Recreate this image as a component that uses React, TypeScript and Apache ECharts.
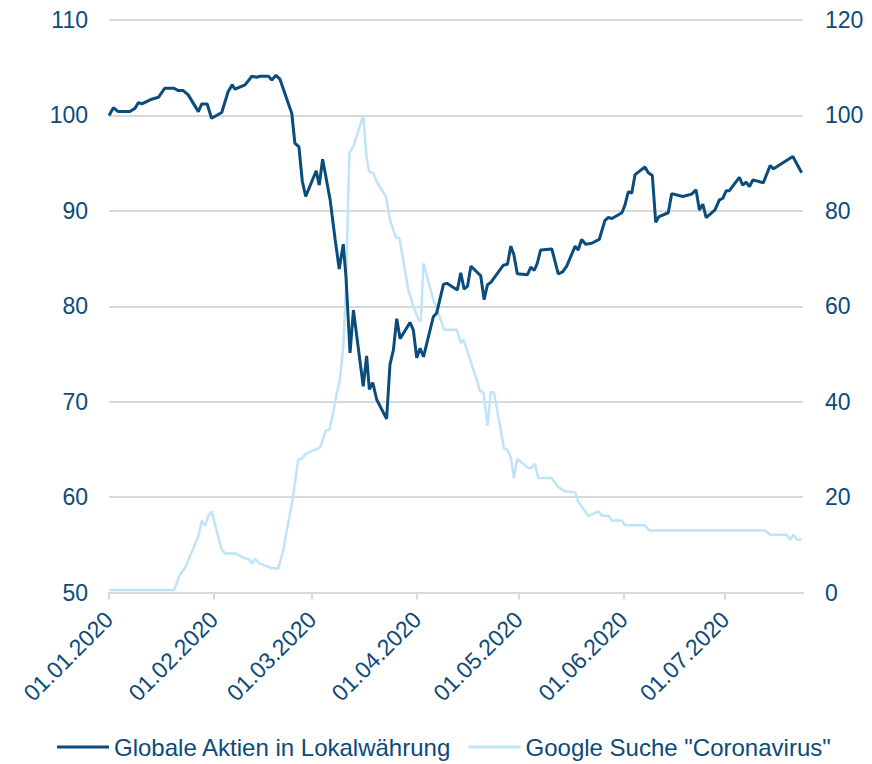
import React, { useEffect, useRef } from "react";
import * as echarts from "echarts";

// x values are days since 01.01.2020
const stockDays = [
  0, 1.3, 2.7, 6.2, 7.7, 8.7, 9.7, 12.6, 14.6, 16.5, 19.2, 20.5, 21.9, 23.4, 26.4, 27.4, 29.0, 30.3, 33.3, 35.2,
  36.4, 37.2, 40.2, 42.2, 43.6, 44.6, 47.1, 48.1, 49.3, 50.5, 54.0, 54.9, 56.1, 57.1, 58.1, 61.2, 62.1, 63.1, 65.3, 66.8,
  68.0, 69.2, 70.0, 71.2, 72.2, 75.1, 76.1, 76.9, 77.9, 79.1, 82.0, 83.0, 84.0, 85.0, 86.0, 88.9, 89.9, 90.9, 91.9, 92.9,
  95.8, 96.8, 98.8, 99.8, 102.9, 103.9, 104.9, 105.9, 106.9, 109.8, 110.8, 111.8, 112.8, 116.5, 117.7, 118.7, 119.6, 120.6, 123.6, 124.6,
  125.6, 126.5, 127.5, 130.8, 132.7, 134.0, 135.2, 137.7, 138.6, 139.6, 140.8, 142.6, 144.8, 146.5, 147.5, 148.6, 151.5, 152.4, 153.4, 154.4,
  155.4, 158.3, 159.3, 160.5, 161.5, 162.5, 165.2, 166.2, 169.5, 172.1, 173.4, 174.4, 175.4, 176.4, 179.0, 180.3, 181.3, 182.3, 183.2, 186.2,
  187.2, 188.2, 189.2, 190.2, 193.3, 195.3, 196.3, 202.0, 204.6,
];
const stockValues = [
  100.0, 100.8, 100.4, 100.4, 100.75, 101.35, 101.2, 101.7, 101.9, 102.85, 102.85, 102.6, 102.6, 102.15, 100.4, 101.2, 101.2, 99.7, 100.3, 102.5,
  103.2, 102.75, 103.2, 104.1, 104.0, 104.1, 104.1, 103.7, 104.2, 103.8, 100.2, 97.1, 96.7, 93.1, 91.5, 94.2, 92.7, 95.4, 91.2, 87.0,
  83.9, 86.5, 83.1, 75.1, 79.6, 71.6, 74.8, 71.3, 72.0, 70.2, 68.2, 73.9, 75.4, 78.7, 76.6, 78.3, 77.5, 74.6, 75.6, 74.7,
  78.9, 79.3, 82.3, 82.4, 81.7, 83.5, 81.8, 82.1, 84.2, 83.2, 80.7, 82.25, 82.5, 84.3, 84.4, 86.3, 85.4, 83.4, 83.3, 84.1,
  83.75, 84.5, 85.9, 86.0, 83.4, 83.6, 84.2, 86.3, 85.9, 87.0, 86.5, 86.6, 87.0, 89.0, 89.3, 89.2, 89.8, 90.6, 92.0, 91.85,
  93.8, 94.6, 94.0, 93.7, 88.8, 89.4, 89.8, 91.8, 91.5, 91.75, 92.2, 90.1, 90.7, 89.3, 90.1, 91.15, 91.3, 92.1, 92.1, 93.5,
  92.7, 93.0, 92.55, 93.25, 92.95, 94.75, 94.4, 95.7, 94.0,
];

const searchDays = [
  0, 19.2, 21.0, 22.5, 26.4, 27.4, 28.4, 29.3, 30.3, 33.3, 34.3, 37.2, 40.2, 41.2, 42.2, 43.1, 44.4, 47.6, 50.0, 51.5,
  54.4, 55.9, 56.9, 58.2, 59.9, 62.3, 64.1, 65.1, 66.3, 67.3, 68.2, 69.2, 70.0, 71.0, 72.2, 75.1, 76.1, 76.9, 78.1, 79.1,
  81.8, 83.0, 84.8, 85.8, 88.4, 89.9, 91.4, 92.1, 92.9, 95.8, 97.3, 99.0, 102.7, 103.9, 104.7, 105.7, 108.6, 109.6, 110.6, 111.8,
  112.8, 113.7, 116.7, 117.7, 118.7, 119.6, 120.6, 123.9, 124.9, 125.8, 126.8, 130.8, 132.7, 134.7, 137.7, 138.6, 141.6, 144.5, 145.6, 147.5,
  148.5, 151.5, 152.4, 158.3, 159.6, 193.8, 195.3, 200.2, 201.2, 202.2, 203.2, 204.6,
];
const searchValues = [
  0.5, 0.5, 3.8, 5.2, 11.8, 15.1, 14.0, 16.0, 17.0, 9.0, 8.2, 8.2, 7.1, 7.05, 6.1, 7.05, 6.1, 5.2, 5.0, 9.0,
  20.2, 27.9, 28.0, 29.1, 29.7, 30.3, 34.0, 34.1, 38.0, 41.8, 44.6, 51.6, 64.1, 92.1, 93.5, 100, 91.0, 88.2, 87.9, 86.1,
  83.0, 78.1, 74.3, 74.3, 63.5, 60.0, 57.2, 56.8, 69.0, 61.4, 58.6, 55.1, 55.1, 52.3, 53.0, 50.9, 44.6, 42.2, 42.0, 35.0,
  42.0, 42.0, 30.1, 30.0, 28.2, 24.0, 28.0, 26.1, 26.1, 27.0, 24.0, 24.0, 22.1, 21.2, 21.0, 19.1, 16.0, 17.0, 16.1, 16.1,
  15.1, 15.1, 14.1, 14.1, 13.0, 13.0, 12.1, 12.1, 11.1, 12.1, 11.1, 11.1,
];

const tickDays = [0, 31, 60, 91, 121, 152, 182];
const tickLabels = ["01.01.2020", "01.02.2020", "01.03.2020", "01.04.2020", "01.05.2020", "01.06.2020", "01.07.2020"];

const seriesNames = ["Globale Aktien in Lokalwährung", 'Google Suche "Coronavirus"'];

const TEXT = "#0d4a7a";
const DARK = "#0a4c7c";
const LIGHT = "#bfe4f8";
const GRID = "#d9d9d9";
const FONT = "Liberation Sans, Arial, sans-serif";

export default function App() {
  const ref = useRef<HTMLDivElement>(null);
  useEffect(() => {
    if (!ref.current) return;
    const chart = echarts.init(ref.current, undefined, { renderer: "svg" });
    const stockData = stockDays.map((d, i) => [d, stockValues[i]]);
    const searchData = searchDays.map((d, i) => [d, searchValues[i]]);
    chart.setOption({
      animation: false,
      backgroundColor: "#ffffff",
      textStyle: { fontFamily: FONT },
      grid: { left: 109, right: 69, top: 20, bottom: 171.5, containLabel: false },
      legend: {
        left: 52,
        top: 730,
        icon: "rect",
        itemWidth: 52,
        itemHeight: 3,
        itemGap: 17,
        textStyle: { color: TEXT, fontSize: 24, fontFamily: FONT },
        data: seriesNames,
      },
      xAxis: {
        type: "value",
        min: 0,
        max: 205,
        splitLine: { show: false },
        axisLine: { show: true, lineStyle: { color: GRID, width: 2 } },
        axisTick: {
          show: true,
          customValues: tickDays,
          length: 7,
          lineStyle: { color: GRID, width: 2 },
        },
        axisLabel: {
          customValues: tickDays,
          rotate: 45,
          margin: 23,
          padding: [14, 0, 0, 0],
          color: TEXT,
          fontSize: 23,
          fontFamily: FONT,
          formatter: (v: number) => {
            const i = tickDays.indexOf(Math.round(v));
            return i >= 0 ? tickLabels[i] : "";
          },
        },
      },
      yAxis: [
        {
          type: "value",
          min: 50,
          max: 110,
          interval: 10,
          axisLine: { show: false },
          axisTick: { show: false },
          splitLine: { show: true, lineStyle: { color: GRID, width: 2 } },
          axisLabel: { color: TEXT, fontSize: 23, fontFamily: FONT, margin: 21 },
        },
        {
          type: "value",
          min: 0,
          max: 120,
          interval: 20,
          axisLine: { show: false },
          axisTick: { show: false },
          splitLine: { show: false },
          axisLabel: { color: TEXT, fontSize: 23, fontFamily: FONT, margin: 22 },
        },
      ],
      series: [
        {
          name: seriesNames[0],
          type: "line",
          yAxisIndex: 0,
          data: stockData,
          symbol: "none",
          z: 3,
          lineStyle: { color: DARK, width: 3 },
          itemStyle: { color: DARK },
        },
        {
          name: seriesNames[1],
          type: "line",
          yAxisIndex: 1,
          data: searchData,
          symbol: "none",
          z: 2,
          lineStyle: { color: LIGHT, width: 2.5 },
          itemStyle: { color: LIGHT },
        },
      ],
    });
    return () => chart.dispose();
  }, []);
  return <div ref={ref} style={{ position: "fixed", left: 0, top: 0, width: 872, height: 764 }} />;
}
